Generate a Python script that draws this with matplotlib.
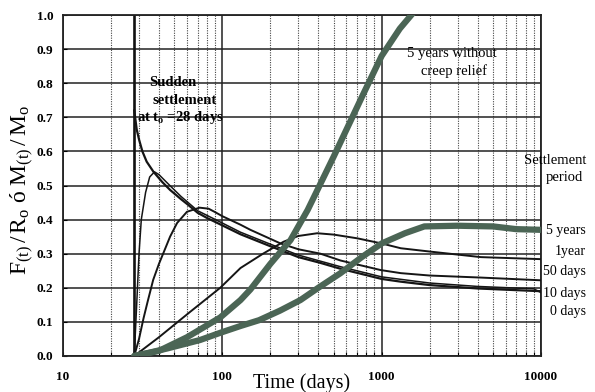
import matplotlib
matplotlib.use("Agg")
import matplotlib.pyplot as plt
from matplotlib.ticker import LogLocator, FixedLocator, NullFormatter

plt.rcParams['font.family'] = ['Liberation Serif', 'DejaVu Serif']
plt.rcParams['mathtext.fontset'] = 'custom'
plt.rcParams['mathtext.rm'] = 'Liberation Serif'
plt.rcParams['mathtext.it'] = 'Liberation Serif:italic'

# ---- data ----
t_0days = [28, 29, 30, 31.5, 33.5, 37, 42, 47, 55, 60, 70, 80, 97, 130, 200, 300, 413, 550, 1000, 1318, 2000, 4000, 10000]
v_0days = [0.72, 0.665, 0.635, 0.60, 0.57, 0.54, 0.51, 0.487, 0.46, 0.446, 0.42, 0.405, 0.386, 0.357, 0.322, 0.29, 0.273, 0.256, 0.226, 0.218, 0.208, 0.198, 0.19]

t_10days = [28, 29, 30, 31, 33, 35, 37.5, 40, 45, 55, 70, 97, 130, 200, 300, 550, 1000, 2000, 4000, 9000, 10000]
v_10days = [0.0, 0.15, 0.30, 0.40, 0.48, 0.525, 0.54, 0.532, 0.508, 0.468, 0.426, 0.393, 0.363, 0.328, 0.296, 0.262, 0.232, 0.214, 0.204, 0.197, 0.186]

t_50days = [28, 30, 32, 34, 36.8, 40, 42.5, 47, 52, 60, 72, 82, 90, 100, 130, 150, 232, 300, 413, 552, 986, 1318, 2000, 4190, 10000]
v_50days = [0.0, 0.05, 0.11, 0.16, 0.223, 0.27, 0.30, 0.35, 0.39, 0.423, 0.435, 0.432, 0.422, 0.41, 0.385, 0.37, 0.33, 0.313, 0.30, 0.28, 0.252, 0.243, 0.236, 0.23, 0.222]

t_1year = [28, 40, 63, 97, 130, 180, 242, 300, 394, 500, 705, 1000, 1318, 2030, 4190, 10000]
v_1year = [0.0, 0.055, 0.13, 0.2, 0.258, 0.3, 0.335, 0.352, 0.36, 0.356, 0.345, 0.33, 0.316, 0.306, 0.29, 0.284]

t_5years = [28, 35, 45, 60, 72.6, 97, 130, 170, 230, 309, 400, 552, 750, 1000, 1400, 1853, 3000, 5000, 7000, 10000]
v_5years = [0.0, 0.01, 0.022, 0.037, 0.047, 0.068, 0.088, 0.105, 0.133, 0.164, 0.2, 0.243, 0.29, 0.33, 0.36, 0.38, 0.382, 0.38, 0.372, 0.37]

t_nocreep = [28, 40, 60, 97, 130, 150, 200, 268, 343, 499, 770, 1000, 1300, 1600]
v_nocreep = [0.0, 0.015, 0.055, 0.113, 0.164, 0.195, 0.27, 0.34, 0.428, 0.584, 0.77, 0.88, 0.96, 1.01]

t_sudden = 28
x_ticks = [10, 100, 1000, 10000]
x_ticklabels = ["10", "100", "1000", "10000"]
y_ticks = [0.0, 0.1, 0.2, 0.3, 0.4, 0.5, 0.6, 0.7, 0.8, 0.9, 1.0]
period_labels = ["5 years", "1year", "50 days", "10 days", "0 days"]

W, H = 595, 392
fig = plt.figure(figsize=(W / 100, H / 100), dpi=100)
ax = fig.add_axes([63 / W, 1 - 356 / H, (541 - 63) / W, (356 - 15) / H])

ax.set_xscale('log')
ax.set_xlim(10, 10000)
ax.set_ylim(0, 1.0)

# grid
ax.xaxis.set_major_locator(FixedLocator(x_ticks))
ax.xaxis.set_minor_locator(LogLocator(base=10, subs=[2, 3, 4, 5, 6, 7, 8, 9]))
ax.xaxis.set_minor_formatter(NullFormatter())
ax.set_xticks(x_ticks)
ax.set_xticklabels(x_ticklabels)
ax.set_yticks(y_ticks)
ax.set_yticklabels([f"{v:.1f}" for v in y_ticks])
ax.grid(which='major', axis='y', color='#222222', lw=1.1)
ax.grid(which='major', axis='x', color='#222222', lw=1.1)
ax.grid(which='minor', axis='x', color='#444444', lw=0.8, linestyle=(0, (1, 1.2)))
ax.set_axisbelow(True)
ax.axvline(t_sudden, color='#111111', lw=1.9, zorder=2)

for s in ax.spines.values():
    s.set_linewidth(1.3)
    s.set_color('#222222')

ax.tick_params(axis='both', which='both', direction='in', length=3, width=0.8, labelsize=9.5)
ax.tick_params(axis='x', which='major', pad=11)
ax.tick_params(axis='y', which='major', pad=7)
for lab in ax.get_xticklabels() + ax.get_yticklabels():
    lab.set_fontweight('bold')

# curves
ax.plot(t_1year, v_1year, color='#151515', lw=1.4, zorder=3)
ax.plot(t_50days, v_50days, color='#151515', lw=1.4, zorder=3)
ax.plot(t_10days, v_10days, color='#151515', lw=1.1, zorder=3)
ax.plot(t_0days, v_0days, color='#151515', lw=1.6, zorder=3)
ax.plot(t_5years, v_5years, color='#4b6555', lw=4.5, solid_capstyle='round', zorder=4)
ax.plot(t_nocreep, v_nocreep, color='#4b6555', lw=4.5, solid_capstyle='round', zorder=4, clip_on=True)

def px(x, y):
    return x / W, 1 - y / H

# annotations
fs = 10.5
fig.text(*px(173, 82), "Sudden", ha='center', va='center', fontsize=fs, fontweight='bold')
fig.text(*px(185, 100), "settlement", ha='center', va='center', fontsize=fs, fontweight='bold')
fig.text(*px(180, 117), r"at t$_\mathregular{o}$ =28 days", ha='center', va='center', fontsize=fs, fontweight='bold')
fig.text(*px(452, 53), "5 years without", ha='center', va='center', fontsize=fs)
fig.text(*px(454, 71), "creep relief", ha='center', va='center', fontsize=fs)
fig.text(*px(586, 161), "Settlement", ha='right', va='center', fontsize=fs)
fig.text(*px(583, 178), "period", ha='right', va='center', fontsize=fs)

label_y = [230, 252, 272, 293, 311]
for lab, yy in zip(period_labels, label_y):
    fig.text(*px(586, yy), lab, ha='right', va='center', fontsize=10)

fig.text(*px(302, 383), "Time (days)", ha='center', va='center', fontsize=14.5)
fig.text(*px(22, 190), r"$\mathregular{F_{(t)}\,/\,R_o\ ó\ M_{(t)}\,/\,M_o}$",
         rotation=90, ha='center', va='center', fontsize=17)

fig.savefig("out.png", dpi=100)
